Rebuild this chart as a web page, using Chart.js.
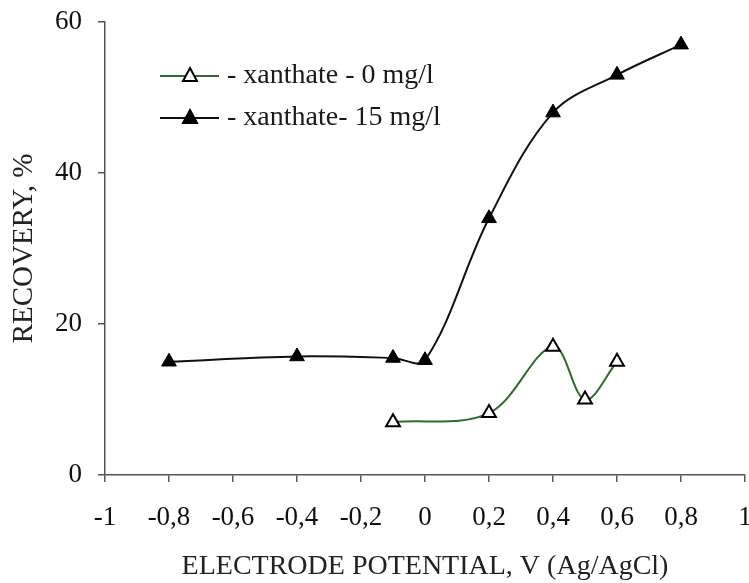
<!DOCTYPE html>
<html>
<head>
<meta charset="utf-8">
<script src="https://cdn.jsdelivr.net/npm/chart.js@4/dist/chart.umd.min.js"></script>
<style>
  html, body { margin: 0; padding: 0; background: #fff; }
  #wrap { width: 749px; height: 583px; }
</style>
</head>
<body>
<div id="wrap"><canvas id="chart" width="749" height="583"></canvas></div>
<script>
// data
const potential0 = [-0.1, 0.2, 0.4, 0.5, 0.6];
const recovery0 = [7, 8.2, 17, 10, 15];
const potential15 = [-0.8, -0.4, -0.1, 0, 0.2, 0.4, 0.6, 0.8];
const recovery15 = [15, 15.7, 15.5, 15.2, 34, 48, 53, 57];
const seriesNames = ['- xanthate - 0 mg/l', '- xanthate- 15 mg/l'];

const serif = "'Liberation Serif', 'Times New Roman', serif";
const toPoints = (xs, ys) => xs.map((x, i) => ({ x: x, y: ys[i] }));

// legend sits inside the plot, drawn by hand
const innerLegend = {
  id: 'innerLegend',
  afterDraw(chart) {
    const ctx = chart.ctx;
    const rows = [
      { y: 76, color: '#2f6b2f', fill: '#fff' },
      { y: 118, color: '#111', fill: '#000' }
    ];
    ctx.save();
    rows.forEach((r, i) => {
      ctx.strokeStyle = r.color;
      ctx.lineWidth = 2;
      ctx.beginPath();
      ctx.moveTo(160, r.y);
      ctx.lineTo(219, r.y);
      ctx.stroke();
      // triangle marker
      ctx.beginPath();
      ctx.moveTo(190, r.y - 8);
      ctx.lineTo(197, r.y + 5);
      ctx.lineTo(183, r.y + 5);
      ctx.closePath();
      ctx.fillStyle = r.fill;
      ctx.fill();
      ctx.strokeStyle = '#000';
      ctx.stroke();
      ctx.fillStyle = '#1a1a1a';
      ctx.font = '28px ' + serif;
      ctx.textBaseline = 'middle';
      ctx.fillText(seriesNames[i], 227, r.y);
    });
    ctx.restore();
  }
};

const ctx = document.getElementById('chart').getContext('2d');
new Chart(ctx, {
  type: 'line',
  data: {
    datasets: [{
      label: seriesNames[0],
      data: toPoints(potential0, recovery0),
      borderColor: '#2f6b2f',
      borderWidth: 2,
      tension: 0.35,
      pointStyle: 'triangle',
      pointRadius: 8,
      pointBackgroundColor: '#fff',
      pointBorderColor: '#000',
      pointBorderWidth: 2
    }, {
      label: seriesNames[1],
      data: toPoints(potential15, recovery15),
      borderColor: '#111',
      borderWidth: 2,
      tension: 0.35,
      pointStyle: 'triangle',
      pointRadius: 8.5,
      pointBackgroundColor: '#000',
      pointBorderColor: '#000',
      pointBorderWidth: 1
    }]
  },
  options: {
    responsive: false,
    animation: false,
    layout: { autoPadding: false, padding: { top: 22, right: 4, left: 0, bottom: 0 } },
    scales: {
      x: {
        type: 'linear',
        min: -1,
        max: 1,
        afterFit: s => {
          s.height = 108;
          s.paddingLeft = 0; s.paddingRight = 0;
        },
        grid: { display: true, drawOnChartArea: false, drawTicks: true, tickLength: 7, color: '#555', lineWidth: 1.5 },
        border: { color: '#555', width: 1.5 },
        ticks: {
          stepSize: 0.2,
          padding: 20,
          color: '#111',
          font: { family: serif, size: 27 },
          callback: v => (Math.round(v * 10) / 10).toString().replace('.', ',')
        },
        title: {
          display: true,
          text: 'ELECTRODE POTENTIAL, V (Ag/AgCl)',
          color: '#222',
          font: { family: serif, size: 28 },
          padding: { top: 0, bottom: 0 }
        }
      },
      y: {
        min: 0,
        max: 60,
        afterFit: s => {
          s.width = 105;
          s.paddingTop = 0; s.paddingBottom = 0;
        },
        grid: { display: true, drawOnChartArea: false, drawTicks: true, tickLength: 7, color: '#555', lineWidth: 1.5 },
        border: { color: '#555', width: 1.5 },
        ticks: {
          stepSize: 20,
          padding: 16,
          color: '#111',
          font: { family: serif, size: 27 }
        },
        title: {
          display: true,
          text: 'RECOVERY, %',
          color: '#222',
          font: { family: serif, size: 29 },
          padding: { top: 7, bottom: 0 }
        }
      }
    },
    plugins: {
      legend: { display: false },
      tooltip: { enabled: false }
    }
  },
  plugins: [innerLegend]
});
</script>
</body>
</html>
